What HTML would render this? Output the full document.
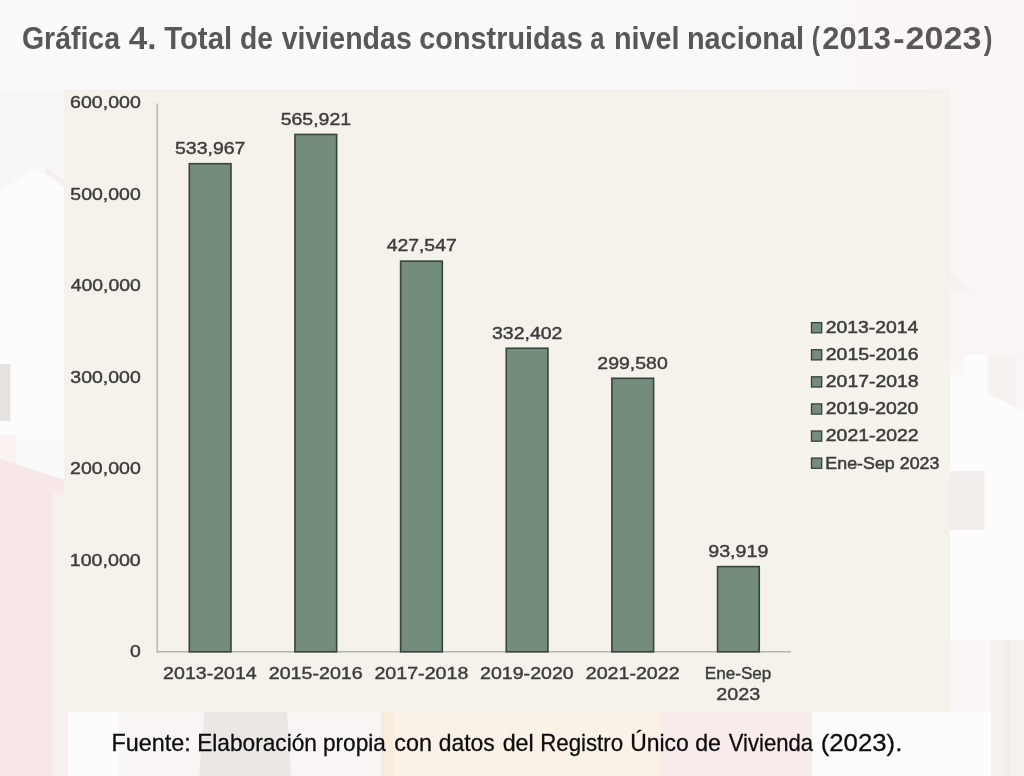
<!DOCTYPE html>
<html lang="es">
<head>
<meta charset="utf-8">
<title>Gráfica 4</title>
<style>
  html, body { margin:0; padding:0; }
  body { width:1024px; height:776px; overflow:hidden; background:#fbfaf9; font-family:"Liberation Sans", sans-serif; }
  svg { display:block; position:absolute; left:0; top:0; will-change:transform; }
  text { font-family:"Liberation Sans", sans-serif; }
  #axes text, #labels text { stroke:#3d3d3d; stroke-width:0.42px; }
  #legend text { stroke:#3d3d3d; stroke-width:0.5px; }
  #footer text { stroke:#0d0d0d; stroke-width:0.3px; }
</style>
</head>
<body>
<svg width="1024" height="776" viewBox="0 0 1024 776">
  <!-- BACKGROUND -->
  <g id="bg">
    <defs><linearGradient id="bgg" x1="0" y1="0" x2="1" y2="0"><stop offset="0" stop-color="#fafafa"/><stop offset="0.55" stop-color="#fbfafa"/><stop offset="1" stop-color="#faf6f5"/></linearGradient></defs>
    <rect x="0" y="0" width="1024" height="776" fill="url(#bgg)"/>
    <!-- left strip: faint house silhouette -->
    <rect x="0" y="89" width="64" height="120" fill="#f8f7f7"/>
    <polygon points="0,191 35,168 64,187 64,440 0,440" fill="#fdfcfc"/>
    <line x1="46" y1="170" x2="64" y2="184" stroke="#f6efee" stroke-width="5"/>
    <rect x="0" y="364" width="10.4" height="57" fill="#e6e2e0"/>
    <rect x="0" y="435" width="16" height="40" fill="#fbf3f2"/>
    <polygon points="0,459 64,479.4 64,776 0,776" fill="#f8e8e8"/>
    <rect x="52.6" y="493" width="16" height="283" fill="#f8efef"/>
    <!-- bottom strip -->
    <rect x="68" y="712" width="51" height="64" fill="#fcfcfc"/>
    <rect x="119" y="712" width="262" height="64" fill="#f8f5f4"/>
    <polygon points="204.3,712 287,712 291,776 199.2,776" fill="#ebe7e5"/>
    <rect x="381" y="712" width="280" height="64" fill="#fbf2e7"/>
    <rect x="381" y="712" width="12" height="64" fill="#f9ecdc"/>
    <rect x="661" y="712" width="151" height="64" fill="#f8ecea"/>
    <rect x="812" y="712" width="179" height="64" fill="#fdfcfc"/>
    <!-- right strip -->
    <polygon points="950,272 972,290 950,290" fill="#f7f2f0"/>
    <rect x="950" y="290" width="74" height="70" fill="#f9f5f4"/>
    <polygon points="950,372 1024,412 1024,640 950,640" fill="#fdfcfc"/>
    <rect x="963" y="355" width="24" height="40" fill="#fdfcfc"/>
    <polygon points="989.6,355 1016.5,355 1016.5,408 989.6,394" fill="#f7f1f0"/>
    <rect x="950" y="471" width="34.5" height="59" fill="#f3eeec"/>
    <rect x="991" y="640" width="33" height="136" fill="#f6f0ef"/>
    <rect x="1003" y="640" width="8" height="136" fill="#f3ecea"/>
  </g>
  <!-- PANEL -->
  <rect x="64" y="89" width="886" height="623" fill="#f5f2ec"/>
  <!-- TITLE -->
  <g id="title">
    <text x="21.91" y="48.8" font-size="32" font-weight="bold" fill="#585858" textLength="98.11" lengthAdjust="spacingAndGlyphs">Gráfica</text>
    <text x="128.75" y="48.8" font-size="32" font-weight="bold" fill="#585858" textLength="27.71" lengthAdjust="spacingAndGlyphs">4.</text>
    <text x="164.20" y="48.8" font-size="32" font-weight="bold" fill="#585858" textLength="67.93" lengthAdjust="spacingAndGlyphs">Total</text>
    <text x="239.92" y="48.8" font-size="32" font-weight="bold" fill="#585858" textLength="32.99" lengthAdjust="spacingAndGlyphs">de</text>
    <text x="281.70" y="48.8" font-size="32" font-weight="bold" fill="#585858" textLength="130.06" lengthAdjust="spacingAndGlyphs">viviendas</text>
    <text x="419.30" y="48.8" font-size="32" font-weight="bold" fill="#585858" textLength="163.37" lengthAdjust="spacingAndGlyphs">construidas</text>
    <text x="590.30" y="48.8" font-size="32" font-weight="bold" fill="#585858" textLength="14.24" lengthAdjust="spacingAndGlyphs">a</text>
    <text x="614.00" y="48.8" font-size="32" font-weight="bold" fill="#585858" textLength="65.60" lengthAdjust="spacingAndGlyphs">nivel</text>
    <text x="686.90" y="48.8" font-size="32" font-weight="bold" fill="#585858" textLength="117.11" lengthAdjust="spacingAndGlyphs">nacional</text>
    <text x="811.75" y="48.8" font-size="32" font-weight="bold" fill="#585858" textLength="8.19" lengthAdjust="spacingAndGlyphs">(</text>
    <text x="822.34" y="48.8" font-size="32" font-weight="bold" fill="#585858" textLength="68.53" lengthAdjust="spacingAndGlyphs">2013</text>
    <text x="893.34" y="48.8" font-size="32" font-weight="bold" fill="#585858" textLength="11.28" lengthAdjust="spacingAndGlyphs">-</text>
    <text x="905.64" y="48.8" font-size="32" font-weight="bold" fill="#585858" textLength="75.71" lengthAdjust="spacingAndGlyphs">2023</text>
    <text x="983.80" y="48.8" font-size="32" font-weight="bold" fill="#585858" textLength="8.75" lengthAdjust="spacingAndGlyphs">)</text>
  </g>
  <!-- AXES -->
  <g id="axes">
    <line x1="157.2" y1="103.6" x2="157.2" y2="652.4" stroke="#b5b3af" stroke-width="1.4"/>
    <line x1="156.5" y1="651.8" x2="791" y2="651.8" stroke="#b5b3af" stroke-width="1.4"/>
    <text x="129.99" y="656.6" font-size="16.9" fill="#3d3d3d" textLength="10.79" lengthAdjust="spacingAndGlyphs">0</text>
    <text x="69.77" y="565.9" font-size="16.9" fill="#3d3d3d" textLength="71.02" lengthAdjust="spacingAndGlyphs">100,000</text>
    <text x="70.08" y="474.4" font-size="16.9" fill="#3d3d3d" textLength="70.70" lengthAdjust="spacingAndGlyphs">200,000</text>
    <text x="70.39" y="382.8" font-size="16.9" fill="#3d3d3d" textLength="70.39" lengthAdjust="spacingAndGlyphs">300,000</text>
    <text x="70.70" y="291.3" font-size="16.9" fill="#3d3d3d" textLength="70.09" lengthAdjust="spacingAndGlyphs">400,000</text>
    <text x="70.39" y="199.7" font-size="16.9" fill="#3d3d3d" textLength="70.39" lengthAdjust="spacingAndGlyphs">500,000</text>
    <text x="70.08" y="108.1" font-size="16.9" fill="#3d3d3d" textLength="70.70" lengthAdjust="spacingAndGlyphs">600,000</text>
  </g>
  <!-- BARS -->
  <g id="bars">
    <rect x="189.30" y="163.70" width="41.70" height="488.10" fill="#748c7b" stroke="#36443c" stroke-width="1.6"/>
    <rect x="294.95" y="134.44" width="41.70" height="517.36" fill="#748c7b" stroke="#36443c" stroke-width="1.6"/>
    <rect x="400.60" y="261.14" width="41.70" height="390.66" fill="#748c7b" stroke="#36443c" stroke-width="1.6"/>
    <rect x="506.25" y="348.25" width="41.70" height="303.55" fill="#748c7b" stroke="#36443c" stroke-width="1.6"/>
    <rect x="611.90" y="378.30" width="41.70" height="273.50" fill="#748c7b" stroke="#36443c" stroke-width="1.6"/>
    <rect x="717.55" y="566.61" width="41.70" height="85.19" fill="#748c7b" stroke="#36443c" stroke-width="1.6"/>
  </g>
  <!-- LABELS -->
  <g id="labels">
    <text x="175.04" y="153.9" font-size="16.9" fill="#3d3d3d" textLength="70.40" lengthAdjust="spacingAndGlyphs">533,967</text>
    <text x="163.13" y="679.4" font-size="16.9" fill="#3d3d3d" textLength="93.60" lengthAdjust="spacingAndGlyphs">2013-2014</text>
    <text x="280.69" y="124.6" font-size="16.9" fill="#3d3d3d" textLength="70.40" lengthAdjust="spacingAndGlyphs">565,921</text>
    <text x="268.78" y="679.4" font-size="16.9" fill="#3d3d3d" textLength="93.92" lengthAdjust="spacingAndGlyphs">2015-2016</text>
    <text x="386.65" y="251.3" font-size="16.9" fill="#3d3d3d" textLength="70.09" lengthAdjust="spacingAndGlyphs">427,547</text>
    <text x="374.43" y="679.4" font-size="16.9" fill="#3d3d3d" textLength="93.92" lengthAdjust="spacingAndGlyphs">2017-2018</text>
    <text x="491.99" y="338.5" font-size="16.9" fill="#3d3d3d" textLength="70.40" lengthAdjust="spacingAndGlyphs">332,402</text>
    <text x="480.08" y="679.4" font-size="16.9" fill="#3d3d3d" textLength="93.60" lengthAdjust="spacingAndGlyphs">2019-2020</text>
    <text x="597.34" y="368.5" font-size="16.9" fill="#3d3d3d" textLength="70.40" lengthAdjust="spacingAndGlyphs">299,580</text>
    <text x="585.73" y="679.4" font-size="16.9" fill="#3d3d3d" textLength="93.92" lengthAdjust="spacingAndGlyphs">2021-2022</text>
    <text x="708.28" y="556.8" font-size="16.9" fill="#3d3d3d" textLength="60.12" lengthAdjust="spacingAndGlyphs">93,919</text>
    <text x="704.76" y="679.4" font-size="16.0" fill="#3d3d3d" textLength="66.63" lengthAdjust="spacingAndGlyphs">Ene-Sep</text>
    <text x="716.37" y="699.6" font-size="16.9" fill="#3d3d3d" textLength="43.93" lengthAdjust="spacingAndGlyphs">2023</text>
  </g>
  <!-- LEGEND -->
  <g id="legend">
    <rect x="803" y="312" width="146" height="166" fill="#f6f3ed"/>
    <rect x="811.5" y="322.6" width="10.2" height="10.2" fill="#748c7b" stroke="#34423a" stroke-width="1.3"/>
    <rect x="811.5" y="349.7" width="10.2" height="10.2" fill="#748c7b" stroke="#34423a" stroke-width="1.3"/>
    <rect x="811.5" y="376.8" width="10.2" height="10.2" fill="#748c7b" stroke="#34423a" stroke-width="1.3"/>
    <rect x="811.5" y="403.9" width="10.2" height="10.2" fill="#748c7b" stroke="#34423a" stroke-width="1.3"/>
    <rect x="811.5" y="431.0" width="10.2" height="10.2" fill="#748c7b" stroke="#34423a" stroke-width="1.3"/>
    <rect x="811.5" y="458.1" width="10.2" height="10.2" fill="#748c7b" stroke="#34423a" stroke-width="1.3"/>
    <text x="825.79" y="333.0" font-size="16.9" fill="#3d3d3d" textLength="92.59" lengthAdjust="spacingAndGlyphs">2013-2014</text>
    <text x="825.79" y="360.1" font-size="16.9" fill="#3d3d3d" textLength="92.90" lengthAdjust="spacingAndGlyphs">2015-2016</text>
    <text x="825.79" y="387.2" font-size="16.9" fill="#3d3d3d" textLength="92.90" lengthAdjust="spacingAndGlyphs">2017-2018</text>
    <text x="825.79" y="414.3" font-size="16.9" fill="#3d3d3d" textLength="92.59" lengthAdjust="spacingAndGlyphs">2019-2020</text>
    <text x="825.79" y="441.4" font-size="16.9" fill="#3d3d3d" textLength="92.90" lengthAdjust="spacingAndGlyphs">2021-2022</text>
    <text x="825.31" y="468.5" font-size="16.9" fill="#3d3d3d" textLength="114.12" lengthAdjust="spacingAndGlyphs">Ene-Sep 2023</text>
  </g>
  <!-- FOOTER -->
  <g id="footer">
    <text x="111.58" y="750.7" font-size="24" fill="#0d0d0d" textLength="79.13" lengthAdjust="spacingAndGlyphs">Fuente:</text>
    <text x="197.23" y="750.7" font-size="24" fill="#0d0d0d" textLength="119.64" lengthAdjust="spacingAndGlyphs">Elaboración</text>
    <text x="322.99" y="750.7" font-size="24" fill="#0d0d0d" textLength="62.87" lengthAdjust="spacingAndGlyphs">propia</text>
    <text x="394.27" y="750.7" font-size="24" fill="#0d0d0d" textLength="37.64" lengthAdjust="spacingAndGlyphs">con</text>
    <text x="438.68" y="750.7" font-size="24" fill="#0d0d0d" textLength="56.03" lengthAdjust="spacingAndGlyphs">datos</text>
    <text x="502.67" y="750.7" font-size="24" fill="#0d0d0d" textLength="31.06" lengthAdjust="spacingAndGlyphs">del</text>
    <text x="540.16" y="750.7" font-size="24" fill="#0d0d0d" textLength="82.94" lengthAdjust="spacingAndGlyphs">Registro</text>
    <text x="630.17" y="750.7" font-size="24" fill="#0d0d0d" textLength="58.56" lengthAdjust="spacingAndGlyphs">Único</text>
    <text x="695.18" y="750.7" font-size="24" fill="#0d0d0d" textLength="25.76" lengthAdjust="spacingAndGlyphs">de</text>
    <text x="728.75" y="750.7" font-size="24" fill="#0d0d0d" textLength="84.21" lengthAdjust="spacingAndGlyphs">Vivienda</text>
    <text x="820.69" y="750.7" font-size="24" fill="#0d0d0d" textLength="81.64" lengthAdjust="spacingAndGlyphs">(2023).</text>
  </g>
</svg>
</body>
</html>
